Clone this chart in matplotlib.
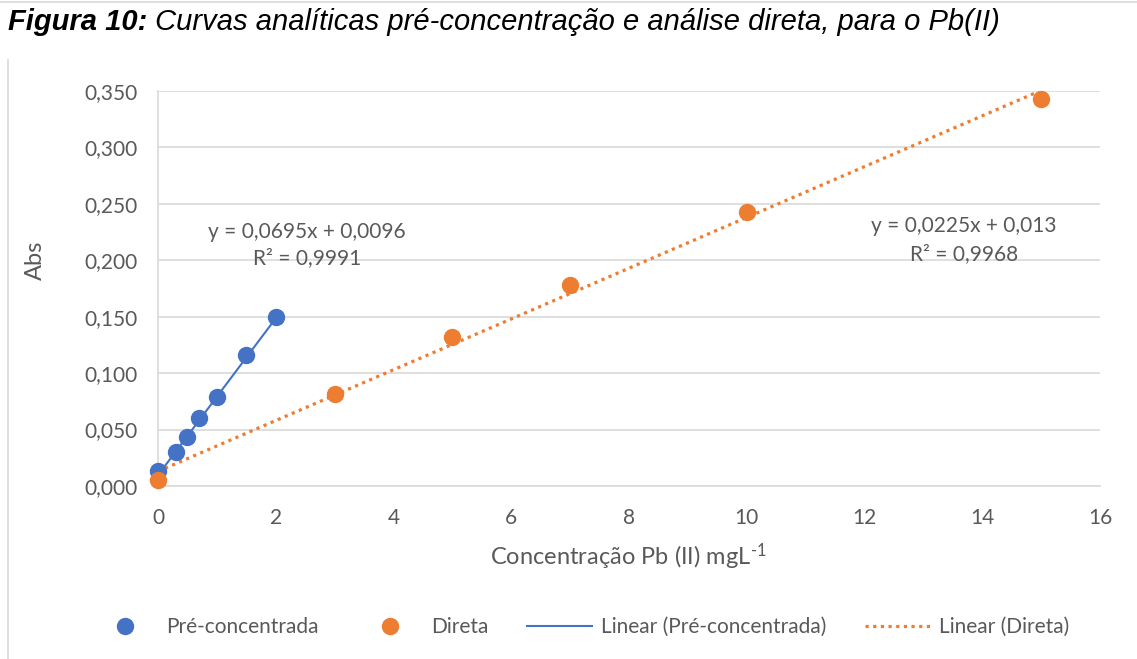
import matplotlib.pyplot as plt
from matplotlib.lines import Line2D

# dados
x_pre = [0, 0.3, 0.5, 0.7, 1.0, 1.5, 2.0]
y_pre = [0.0136, 0.0304, 0.0431, 0.0600, 0.0786, 0.1158, 0.1495]
x_dir = [0, 3, 5, 7, 10, 15]
y_dir = [0.0053, 0.0815, 0.1320, 0.1780, 0.2430, 0.3430]

# ajustes lineares (do grafico)
a_pre, b_pre = 0.0695, 0.0096
a_dir, b_dir = 0.0225, 0.013
eq_pre = ["y = 0,0695x + 0,0096", "R² = 0,9991"]
eq_dir = ["y = 0,0225x + 0,013", "R² = 0,9968"]

xticks = [0, 2, 4, 6, 8, 10, 12, 14, 16]
yticks = [0, 0.05, 0.10, 0.15, 0.20, 0.25, 0.30, 0.35]

blue = '#4472C4'
orange = '#ED7D31'
gray = '#595959'
grid = '#D9D9D9'
font = 'Lato'
fs = 15

plt.rcParams['mathtext.fontset'] = 'custom'
plt.rcParams['mathtext.rm'] = font
plt.rcParams['mathtext.it'] = font + ':italic'

W, H = 1137, 659
fig = plt.figure(figsize=(W / 100, H / 100), dpi=100)
ax = fig.add_axes([158 / W, 1 - 486 / H, (1100 - 158) / W, (486 - 91) / H])

ax.plot(x_pre, y_pre, 'o', color=blue, markersize=11.5, clip_on=False, zorder=4,
        label='Pré-concentrada')
ax.plot(x_dir, y_dir, 'o', color=orange, markersize=11.5, clip_on=False, zorder=4,
        label='Direta')
xl = [x_pre[0], x_pre[-1]]
ax.plot(xl, [a_pre * v + b_pre for v in xl], '-', color=blue, lw=1.5, zorder=3,
        label='Linear (Pré-concentrada)')
xl = [x_dir[0], x_dir[-1]]
ax.plot(xl, [a_dir * v + b_dir for v in xl], color=orange, lw=2.3, zorder=3,
        linestyle=(0, (1, 1.4)), label='Linear (Direta)')

ax.set_xlim(0, 16)
ax.set_ylim(0, 0.35)
ax.set_xticks(xticks)
ax.set_xticklabels([str(v) for v in xticks])
ax.set_yticks(yticks)
ax.set_yticklabels(['{:.3f}'.format(v).replace('.', ',') for v in yticks])
ax.tick_params(length=0, labelsize=fs, labelcolor=gray)
ax.tick_params(axis='y', pad=15)
ax.tick_params(axis='x', pad=16)
for lab in ax.get_xticklabels() + ax.get_yticklabels():
    lab.set_fontfamily(font)
ax.grid(axis='y', color=grid, lw=1.2)
ax.set_axisbelow(True)
for s in ['top', 'right']:
    ax.spines[s].set_visible(False)
for s in ['left', 'bottom']:
    ax.spines[s].set_color(grid)
    ax.spines[s].set_linewidth(1.2)

ax.set_ylabel('Abs', fontsize=17, color=gray, family=font, va='center')
ax.yaxis.set_label_coords((35 - 158) / (1100 - 158), (486 - 260) / (486 - 91))
ax.set_xlabel(r'Concentração Pb (II) mgL$^{\text{-1}}$', fontsize=17, color=gray,
              family=font, va='center')
ax.xaxis.set_label_coords((628 - 158) / (1100 - 158), -(557 - 486) / (486 - 91))

# equacoes
fig.text(307 / W, 1 - 232 / H, eq_pre[0], ha='center', va='center', fontsize=fs,
         color=gray, family=font)
fig.text(307 / W, 1 - 258 / H, eq_pre[1], ha='center', va='center', fontsize=fs,
         color=gray, family=font)
fig.text(964 / W, 1 - 226 / H, eq_dir[0], ha='center', va='center', fontsize=fs,
         color=gray, family=font)
fig.text(964 / W, 1 - 254 / H, eq_dir[1], ha='center', va='center', fontsize=fs,
         color=gray, family=font)

# legenda
fig.legend(loc='center', bbox_to_anchor=(581 / W, 1 - 627 / H), ncol=4, frameon=False,
           prop={'family': font, 'size': fs}, labelcolor=gray, handlelength=3.1,
           columnspacing=1.85, handletextpad=0.45)

# titulo
t1 = fig.text(8 / W, 1 - 30 / H, 'Figura 10:', fontsize=21, fontweight='bold',
              fontstyle='italic', family='Liberation Sans', va='baseline')
fig.canvas.draw()
bb = t1.get_window_extent()
fig.text(bb.x1 / W, 1 - 30 / H,
         ' Curvas analíticas pré-concentração e análise direta, para o Pb(II)',
         fontsize=21, fontstyle='italic', family='Liberation Sans', va='baseline')

# moldura
fig.add_artist(Line2D([0, 1], [1 - 1.5 / H, 1 - 1.5 / H], color=grid, lw=1.2,
                      transform=fig.transFigure))
fig.add_artist(Line2D([8 / W, 8 / W], [0, 1 - 60 / H], color=grid, lw=1.2,
                      transform=fig.transFigure))

fig.savefig('out.png', dpi=100)
